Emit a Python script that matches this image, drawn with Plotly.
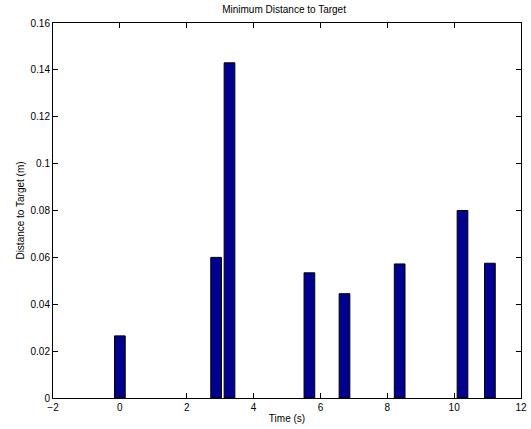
import plotly.graph_objects as go

times = [0.0, 2.88, 3.28, 5.67, 6.72, 8.37, 10.25, 11.07]
distances = [0.0265, 0.0600, 0.1430, 0.0534, 0.0445, 0.0572, 0.0800, 0.0575]
x_ticks = [-2, 0, 2, 4, 6, 8, 10, 12]
y_ticks = [0, 0.02, 0.04, 0.06, 0.08, 0.1, 0.12, 0.14, 0.16]
y_tick_labels = ["0", "0.02", "0.04", "0.06", "0.08", "0.1", "0.12", "0.14", "0.16"]

fig = go.Figure(go.Bar(
    x=times, y=distances, width=0.32,
    marker=dict(color="#00008F", line=dict(color="black", width=1)),
))

font = "Liberation Sans, Arial, Helvetica, sans-serif"
axis_common = dict(showline=True, linecolor="black", linewidth=1, mirror="ticks",
                   ticks="inside", ticklen=5, tickcolor="black", showgrid=False,
                   zeroline=False, automargin=False,
                   tickfont=dict(size=10, color="black", family=font))

fig.update_layout(
    width=531, height=429,
    margin=dict(l=53, r=10, t=23, b=31),
    paper_bgcolor="white", plot_bgcolor="white",
    showlegend=False,
    title=dict(text="Minimum Distance to Target", x=0.535, xanchor="center",
               y=0.977, yanchor="middle", font=dict(size=10, color="black", family=font)),
    xaxis=dict(range=[-2, 12], tickvals=x_ticks, title=dict(text="Time (s)", standoff=2,
               font=dict(size=10, color="black", family=font)), **axis_common),
    yaxis=dict(range=[0, 0.16], tickvals=y_ticks, ticktext=y_tick_labels,
               title=dict(text="Distance to Target (m)", standoff=4,
                          font=dict(size=10, color="black", family=font)), **axis_common),
)

fig.write_html("out.html", config={"displayModeBar": False},
               post_script="document.body.style.margin='0';document.body.style.overflow='hidden';")
